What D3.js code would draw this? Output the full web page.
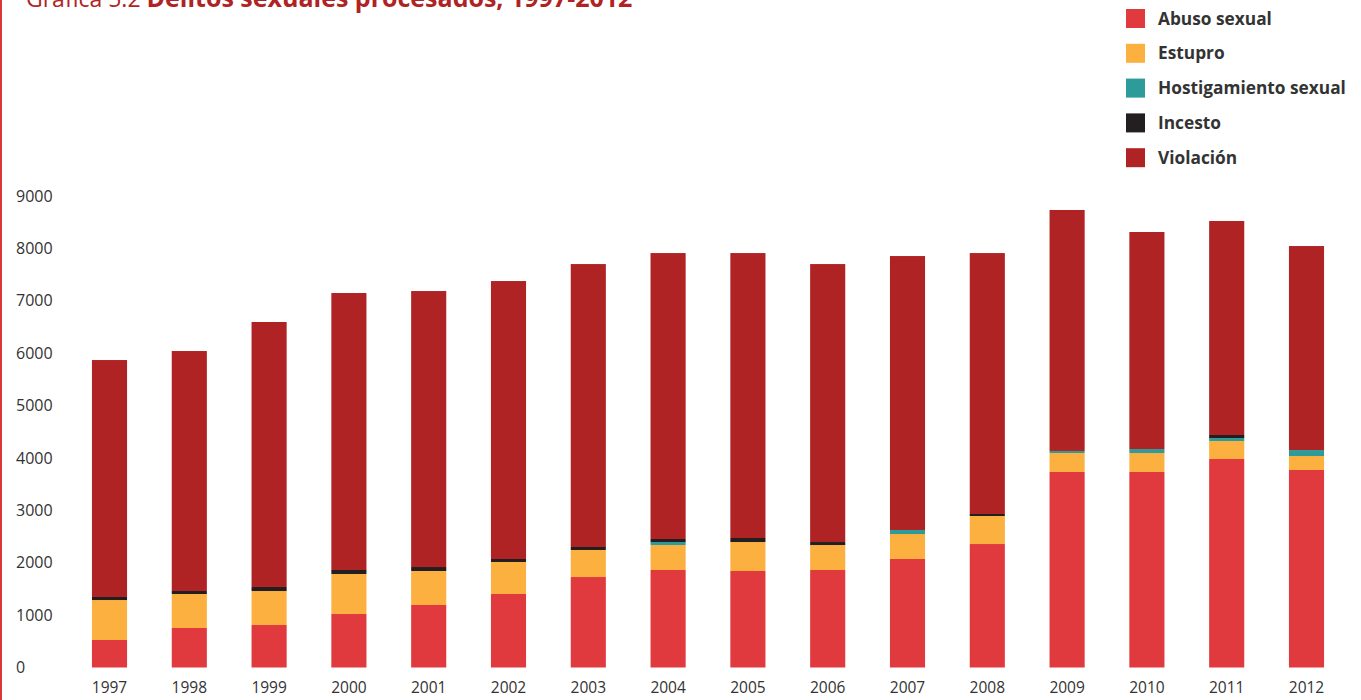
<!DOCTYPE html>
<html>
<head>
<meta charset="utf-8">
<script src="https://cdn.jsdelivr.net/npm/d3@7"></script>
<style>
  body { margin: 0; background: #fff; }
  svg { display: block; }
</style>
</head>
<body>
<svg id="chart" width="1361" height="700"></svg>
<script>
  const years = ['1997', '1998', '1999', '2000', '2001', '2002', '2003', '2004',
    '2005', '2006', '2007', '2008', '2009', '2010', '2011', '2012'];

  const abuso =         [525, 754, 811, 1021, 1193, 1403, 1727, 1861, 1842, 1861, 2071, 2357, 3732, 3732, 3980, 3770];
  const estupro =       [763, 649, 649, 764, 649, 611, 516, 477, 553, 477, 477, 535, 362, 362, 343, 267];
  const hostigamiento = [0, 0, 0, 0, 0, 0, 0, 57, 0, 0, 77, 0, 39, 76, 57, 114];
  const incesto =       [58, 57, 77, 76, 76, 57, 57, 58, 77, 57, 0, 38, 0, 0, 58, 0];
  const violacion =     [4523, 4581, 5058, 5287, 5268, 5306, 5401, 5458, 5439, 5306, 5229, 4981, 4600, 4143, 4085, 3894];

  const seriesNames = ['Abuso sexual', 'Estupro', 'Hostigamiento sexual', 'Incesto', 'Violación'];
  const seriesColors = ['#e13a3e', '#fbb040', '#2e9b9b', '#231f20', '#b02324'];
  const yTicks = [0, 1000, 2000, 3000, 4000, 5000, 6000, 7000, 8000, 9000];

  const table = years.map((y, i) => ({
    year: y,
    'Abuso sexual': abuso[i],
    'Estupro': estupro[i],
    'Hostigamiento sexual': hostigamiento[i],
    'Incesto': incesto[i],
    'Violación': violacion[i]
  }));

  const svg = d3.select('#chart');

  // red rule on the left edge
  svg.append('rect').attr('x', 0).attr('y', 0).attr('width', 2).attr('height', 700).attr('fill', '#d9383a');

  // title (cut at the top like the source page)
  const title = svg.append('text')
    .attr('x', 26).attr('y', 6.5)
    .attr('font-family', '"Open Sans", sans-serif')
    .attr('fill', '#b02324');
  title.append('tspan').attr('font-size', 23).text('Gráfica 5.2 ');
  title.append('tspan').attr('font-size', 25).attr('font-weight', 'bold')
    .text('Delitos sexuales procesados, 1997-2012');

  const x = d3.scaleBand().domain(years).range([69.6, 1346.4]).paddingInner(0.56).paddingOuter(0.28);
  const y = d3.scaleLinear().domain([0, 9000]).range([667.5, 196]);

  const stack = d3.stack().keys(seriesNames);
  const layers = stack(table);

  svg.append('g').selectAll('g')
    .data(layers)
    .enter().append('g')
    .attr('fill', (d, i) => seriesColors[i])
    .selectAll('rect')
    .data(d => d)
    .enter().append('rect')
    .attr('x', d => x(d.data.year))
    .attr('width', x.bandwidth())
    .attr('y', d => y(d[1]))
    .attr('height', d => y(d[0]) - y(d[1]));

  // y axis labels, left aligned
  const yAxis = svg.append('g').attr('transform', 'translate(16,0)')
    .call(d3.axisLeft(y).tickValues(yTicks).tickSize(0).tickPadding(0).tickFormat(d3.format('d')));
  yAxis.select('.domain').remove();
  yAxis.selectAll('text')
    .attr('text-anchor', 'start')
    .attr('font-family', '"Open Sans", sans-serif')
    .attr('font-size', 16)
    .attr('fill', '#333');

  // x axis labels
  const xAxis = svg.append('g').attr('transform', 'translate(0,681.5)')
    .call(d3.axisBottom(x).tickSize(0).tickPadding(0));
  xAxis.select('.domain').remove();
  xAxis.selectAll('text')
    .attr('font-family', '"Open Sans", sans-serif')
    .attr('font-size', 15.5)
    .attr('fill', '#333');

  // legend
  const legend = svg.append('g').selectAll('g')
    .data(seriesNames)
    .enter().append('g')
    .attr('transform', (d, i) => `translate(1126,${9 + i * 34.8})`);
  legend.append('rect')
    .attr('width', 19).attr('height', 19)
    .attr('fill', (d, i) => seriesColors[i]);
  legend.append('text')
    .attr('x', 32).attr('y', 9.5).attr('dy', '0.35em')
    .attr('font-family', '"Open Sans", sans-serif')
    .attr('font-weight', 'bold')
    .attr('font-size', 17.3)
    .attr('fill', '#333')
    .text(d => d);
</script>
</body>
</html>
